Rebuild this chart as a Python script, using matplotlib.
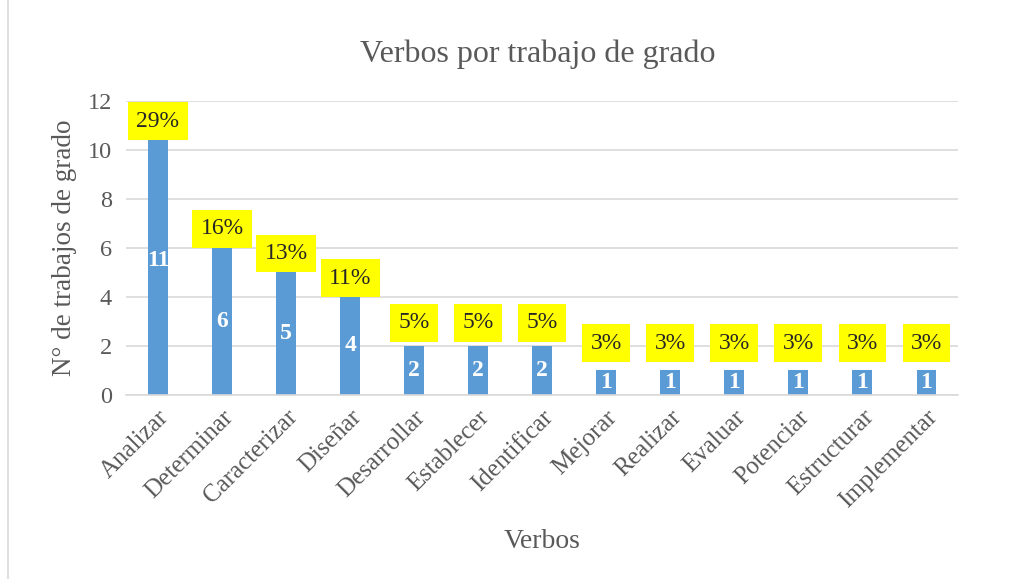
import matplotlib.pyplot as plt
from matplotlib.patches import Rectangle

plt.rcParams['font.family'] = ['Liberation Serif', 'DejaVu Serif']

verbos = ["Analizar", "Determinar", "Caracterizar", "Diseñar", "Desarrollar",
          "Establecer", "Identificar", "Mejorar", "Realizar", "Evaluar",
          "Potenciar", "Estructurar", "Implementar"]
trabajos = [11, 6, 5, 4, 2, 2, 2, 1, 1, 1, 1, 1, 1]
porcentajes = ["29%", "16%", "13%", "11%", "5%", "5%", "5%",
               "3%", "3%", "3%", "3%", "3%", "3%"]

fig = plt.figure(figsize=(10.24, 5.79), dpi=100)
ax = fig.add_axes([0.123, 0.318, 0.813, 0.508])

# chart frame
fig.patches.append(Rectangle((0.008, -0.01), 1.1, 1.1, transform=fig.transFigure,
                             fill=False, edgecolor="#D9D9D9", linewidth=1.2))

x = range(len(verbos))
ax.bar(x, trabajos, width=0.31, color="#5B9BD5", zorder=2)

ax.set_ylim(0, 12)
ax.set_xlim(-0.5, len(verbos) - 0.5)
ax.set_yticks(range(0, 13, 2))
ax.grid(axis="y", color="#D9D9D9", linewidth=1.2, zorder=0)
for s in ["top", "right", "left"]:
    ax.spines[s].set_visible(False)
ax.spines["bottom"].set_color("#D9D9D9")
ax.spines["bottom"].set_linewidth(1.2)
ax.tick_params(axis="y", length=0, labelsize=17.5, colors="#595959", pad=10)
ax.tick_params(axis="x", length=0, labelsize=18, colors="#595959", pad=8)
ax.set_xticks(list(x))
ax.set_xticklabels(verbos, rotation=45, ha="right", rotation_mode="anchor")

for i, v in enumerate(trabajos):
    # value inside bar
    ax.text(i, v / 2, str(v), ha="center", va="center", color="white",
            fontsize=17, fontweight="bold", zorder=3, clip_on=True)
    # percentage label with yellow box
    gap = 12 if v <= 1 else (9 if v <= 2 else 6)
    base = min(v, 10.4)
    ax.annotate(porcentajes[i], (i, base), xytext=(0, gap), textcoords="offset points",
                ha="center", va="bottom", fontsize=17, color="#262626", zorder=4,
                bbox=dict(boxstyle="square,pad=0.35", facecolor="#FFFF00", edgecolor="none"))

ax.set_ylabel("N° de trabajos de grado", fontsize=19.5, color="#595959", labelpad=8)
ax.set_xlabel("Verbos", fontsize=20, color="#595959", labelpad=12)
fig.text(0.525, 0.907, "Verbos por trabajo de grado", ha="center", va="center",
         fontsize=23, color="#595959")

fig.savefig("out.png", dpi=100)
